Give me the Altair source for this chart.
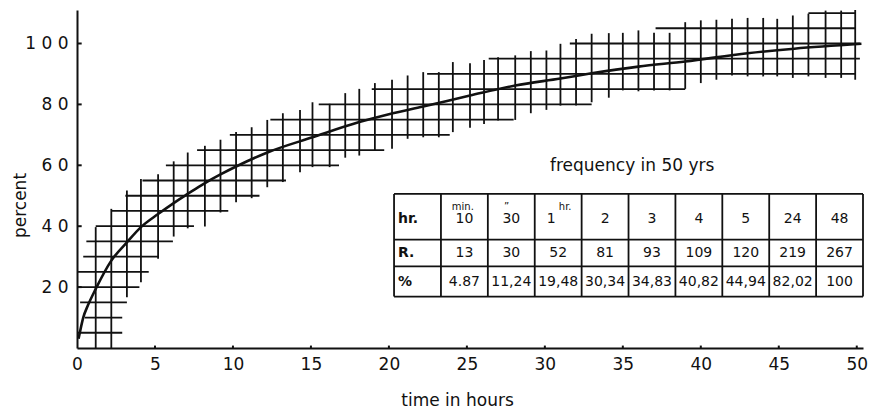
import altair as alt
import pandas as pd

FONT = "DejaVu Sans"
INK = "#111111"

# ---- main curve (time in hours, percent) ----
curve_x = [0.1, 0.4, 0.7, 1.2, 2.2, 3.2, 4.1, 5.2, 6.2, 7.1, 8.15, 9.2, 10.2, 12.25,
           15.1, 18.1, 20.0, 22.2, 25.2, 28.1, 31.0, 33.0, 36.0, 39.0, 43.0, 46.0, 50.3]
curve_y = [3.0, 10.0, 14.0, 19.4, 28.7, 34.7, 39.7, 44.0, 47.6, 50.6, 54.0, 57.0, 59.6, 64.3,
           69.2, 74.2, 76.8, 79.3, 82.9, 86.2, 88.5, 90.2, 92.4, 94.1, 96.8, 98.3, 99.9]

# ---- hatched band: vertical strokes (hour, low %, high %) ----
v_x = [1.2, 2.2, 3.2, 4.1, 5.2, 6.2, 7.1, 8.2, 9.2, 10.2, 11.2, 12.2, 13.2, 14.3, 15.1,
       16.2, 17.2, 18.1, 19.1, 20.2, 21.2, 22.2, 23.2, 24.1, 25.2, 26.1, 27.0, 28.1, 29.1,
       30.1, 31.0, 32.0, 33.0, 34.1, 35.0, 36.0, 37.0, 38.0, 39.0, 40.0, 41.0, 42.0, 43.0,
       44.0, 44.9, 45.9, 46.9, 48.0, 49.0, 49.9]
v_lo = [0, 0, 16.7, 21.6, 29.3, 36.6, 39.3, 39.9, 44.5, 47.9, 49.2, 52.8, 54.5, 57.7, 59.4,
        59.4, 62.5, 63.2, 64.9, 65.4, 68.7, 69.2, 69.2, 70.9, 72.3, 73.6, 74.7, 74.9, 77.1,
        78.2, 79.6, 79.6, 80.7, 82.2, 84.6, 84.3, 84.6, 84.6, 85.1, 87.0, 88.1, 89.5, 89.2,
        89.2, 89.2, 88.7, 89.2, 88.7, 88.7, 88.1]
v_hi = [39.7, 45.7, 51.7, 55.5, 57.1, 61.3, 64.2, 66.4, 68.4, 70.9, 72.5, 74.9, 77.1, 78.2,
        80.7, 80.2, 83.7, 85.1, 87.0, 88.1, 89.5, 90.6, 90.6, 93.9, 93.5, 94.6, 95.5, 96.1,
        97.5, 97.7, 99.9, 101.5, 103.2, 103.4, 103.5, 104.3, 103.5, 103.5, 107.0, 107.6,
        107.8, 108.1, 108.4, 108.4, 108.1, 109.2, 109.8, 110.8, 110.8, 111.0]

# ---- hatched band: horizontal strokes (percent, start hour, end hour) ----
h_y = [5, 10, 15, 20, 25, 30, 35, 40, 45, 50, 55, 60, 65, 70, 75, 80, 85, 90, 95, 100, 105, 110]
h_x0 = [0, 0.5, 0.2, 0, 0, 0.4, 0.6, 1.2, 2.2, 3.1, 4.2, 5.7, 7.7, 9.8, 12.4, 15.5, 18.9,
        22.45, 26.4, 31.6, 37.1, 46.9]
h_x1 = [2.9, 2.9, 3.2, 4.0, 4.6, 5.25, 6.15, 7.5, 9.7, 11.7, 13.4, 16.8, 19.7, 23.9, 28.0,
        33.0, 39.0, 49.9, 50.2, 50.2, 49.9, 49.9]

# ---- inset table ----
tbl_head = ["hr.", "10", "30", "1", "2", "3", "4", "5", "24", "48"]
tbl_R = ["R.", "13", "30", "52", "81", "93", "109", "120", "219", "267"]
tbl_pct = ["%", "4.87", "11,24", "19,48", "30,34", "34,83", "40,82", "44,94", "82,02", "100"]
tbl_sup = ["min.", "\u201d", "hr."]

x_ticks = [0, 5, 10, 15, 20, 25, 30, 35, 40, 45, 50]
y_ticks = [20, 40, 60, 80, 100]

# ---- layout constants (in data units) ----
TX0, CW = 20.33, 3.007
ROW_EDGES = [50.6, 35.6, 26.8, 16.9]
Y_HEAD, Y_SUP, Y_R, Y_PCT = 42.2, 46.4, 31.2, 21.8

xs = alt.Scale(domain=[0, 50.4], nice=False, zero=False)
ys = alt.Scale(domain=[0, 111], nice=False, zero=False)

ax_x = alt.Axis(values=x_ticks, title="time  in   hours", labelFont=FONT, labelFontSize=17,
                labelColor=INK, labelPadding=8, ticks=False, tickSize=0, domainColor=INK,
                domainWidth=2, grid=False, labelFlush=False, labelOverlap=False,
                titleFont=FONT, titleFontSize=17, titleFontWeight="normal", titleColor=INK,
                titleX=380, titleY=52, titleBaseline="middle")
ax_y = alt.Axis(values=y_ticks, title="percent", labelFont=FONT, labelFontSize=17,
                labelColor=INK, labelPadding=9, ticks=False, tickSize=0, domainColor=INK,
                domainWidth=2, grid=False, labelFlush=False, labelOverlap=False,
                labelExpr="join(split(datum.label, ''), ' ')",
                titleFont=FONT, titleFontSize=17, titleFontWeight="normal", titleColor=INK,
                titleX=-57, titleY=195, titleBaseline="middle")


def X(f):
    return alt.X(f, type="quantitative", scale=xs, axis=ax_x)


def Y(f):
    return alt.Y(f, type="quantitative", scale=ys, axis=ax_y)


vdf = pd.DataFrame({"x": v_x, "lo": v_lo, "hi": v_hi})
hdf = pd.DataFrame({"y": h_y, "x0": h_x0, "x1": h_x1})
cdf = pd.DataFrame({"x": curve_x, "y": curve_y})

vert = alt.Chart(vdf).mark_rule(color=INK, strokeWidth=1.8).encode(
    x=X("x"), y=Y("lo"), y2="hi")
horiz = alt.Chart(hdf).mark_rule(color=INK, strokeWidth=1.8).encode(
    y=Y("y"), x=X("x0"), x2="x1")
curve = alt.Chart(cdf).mark_line(color=INK, strokeWidth=2.6, interpolate="monotone").encode(
    x=X("x"), y=Y("y"))

# axis tick marks (inward)
ytk = alt.Chart(pd.DataFrame({"y": y_ticks})).mark_rule(color=INK, strokeWidth=2).encode(
    y=Y("y"), x=alt.datum(0, scale=xs), x2=alt.datum(0.3))
xtk = alt.Chart(pd.DataFrame({"x": x_ticks[1:]})).mark_rule(color=INK, strokeWidth=2).encode(
    x=X("x"), y=alt.datum(0, scale=ys), y2=alt.datum(0.8))

# table grid
tcols = pd.DataFrame({"x": [TX0 + i * CW for i in range(11)]})
trows = pd.DataFrame({"y": ROW_EDGES})
tv = alt.Chart(tcols).mark_rule(color=INK, strokeWidth=1.8).encode(
    x=X("x"), y=alt.datum(ROW_EDGES[-1], scale=ys), y2=alt.datum(ROW_EDGES[0]))
th = alt.Chart(trows).mark_rule(color=INK, strokeWidth=1.8).encode(
    y=Y("y"), x=alt.datum(TX0, scale=xs), x2=alt.datum(TX0 + 10 * CW))

# table text
rows = []
for i in range(1, 10):
    cx = TX0 + (i + 0.5) * CW
    hx = cx - 0.45 if i == 3 else cx
    rows.append({"x": hx, "y": Y_HEAD, "t": tbl_head[i]})
    rows.append({"x": cx, "y": Y_R, "t": tbl_R[i]})
    rows.append({"x": cx, "y": Y_PCT, "t": tbl_pct[i]})
tdf = pd.DataFrame(rows)
ttext = alt.Chart(tdf).mark_text(font=FONT, fontSize=14, color=INK, align="center",
                                 baseline="middle").encode(x=X("x"), y=Y("y"), text="t:N")

ldf = pd.DataFrame({"x": [TX0 + 0.25] * 3, "y": [Y_HEAD, Y_R, Y_PCT],
                    "t": [tbl_head[0], tbl_R[0], tbl_pct[0]]})
ltext = alt.Chart(ldf).mark_text(font=FONT, fontSize=14, color=INK, align="left",
                                 baseline="middle", fontWeight="bold").encode(
    x=X("x"), y=Y("y"), text="t:N")

sdf = pd.DataFrame({"x": [TX0 + 1.5 * CW - 0.1, TX0 + 2.5 * CW - 0.3, TX0 + 3.5 * CW + 0.45],
                    "y": [Y_SUP, Y_SUP, Y_SUP], "t": tbl_sup})
stext = alt.Chart(sdf).mark_text(font=FONT, fontSize=10, color=INK, align="center",
                                 baseline="middle").encode(x=X("x"), y=Y("y"), text="t:N")

freq = alt.Chart(pd.DataFrame({"x": [35.6], "y": [59.9], "t": ["frequency  in   50  yrs"]})).mark_text(
    font=FONT, fontSize=17, color=INK, align="center", baseline="middle").encode(
    x=X("x"), y=Y("y"), text="t:N")

chart = alt.layer(vert, horiz, curve, ytk, xtk, tv, th, ttext, ltext, stext, freq).properties(
    width=786, height=338,
    padding={"left": 77, "top": 10, "right": 11, "bottom": 66},
    autosize=alt.AutoSizeParams(type="none"),
    background="white",
).configure_view(stroke=None)

chart.save("out.html", embed_options={"renderer": "svg", "actions": False})
